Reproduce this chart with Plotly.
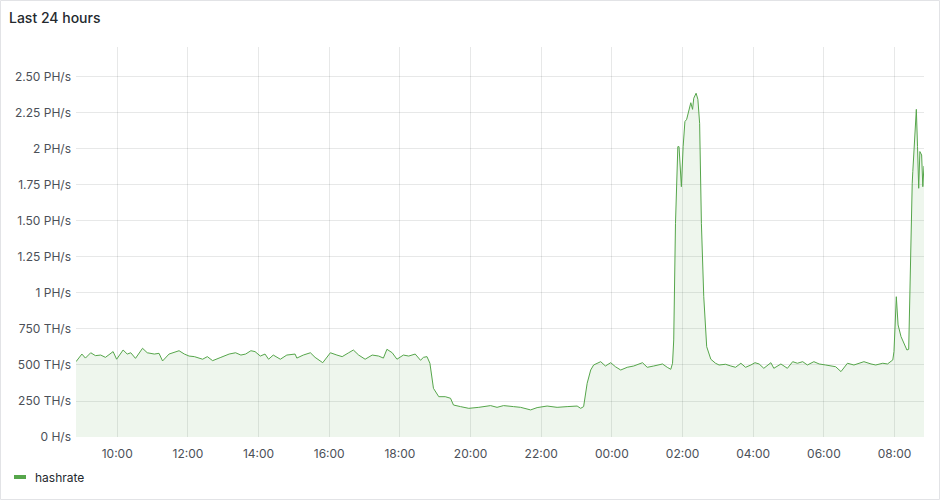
import pandas as pd
import plotly.graph_objects as go

# ---- data ----
start_time = "2023-06-14 08:50"
# minutes after start_time
minutes = [0, 10, 16, 25, 33, 42, 50, 63, 69, 80, 87, 93, 101, 113, 121, 133, 141, 147, 158, 175,
           184, 192, 201, 215, 223, 232, 246, 260, 271, 280, 288, 297, 304, 313, 321, 327, 335, 347,
           358, 372, 375, 386, 398, 406, 419, 432, 443, 452, 463, 471, 480, 491, 503, 514, 522, 528,
           537, 545, 556, 565, 576, 585, 590, 596, 601, 605, 607, 616, 627, 636, 641, 653, 667, 684,
           704, 715, 726, 743, 755, 772, 783, 800, 817, 834, 851, 857, 862, 868, 874, 879, 891, 899,
           908, 916, 925, 936, 947, 962, 970, 981, 996, 1004, 1010, 1013, 1015, 1018, 1022, 1024,
           1028, 1031, 1034, 1037, 1041, 1044, 1047, 1049, 1053, 1056, 1059, 1062, 1066, 1071, 1078,
           1086, 1092, 1103, 1112, 1120, 1129, 1137, 1146, 1153, 1160, 1168, 1180, 1185, 1197, 1208,
           1217, 1225, 1234, 1242, 1253, 1262, 1273, 1282, 1290, 1299, 1310, 1321, 1338, 1350, 1358,
           1370, 1378, 1387, 1389, 1393, 1396, 1401, 1406, 1411, 1414, 1418, 1420, 1421, 1423, 1427,
           1429, 1431, 1433, 1436, 1438, 1440]
# hashrate in TH/s
hashrate_ths = [523, 576, 548, 585, 565, 569, 553, 593, 540, 604, 576, 585, 546, 616, 585, 576, 581, 528, 576, 599,
                576, 562, 558, 540, 558, 530, 553, 576, 585, 569, 576, 599, 593, 562, 576, 540, 569, 540,
                569, 576, 548, 569, 585, 553, 516, 585, 569, 558, 585, 604, 569, 540, 569, 562, 548, 609,
                585, 540, 569, 562, 576, 533, 553, 558, 512, 396, 338, 280, 280, 269, 222, 211, 199, 206,
                218, 206, 218, 211, 206, 188, 204, 215, 206, 211, 215, 199, 211, 373, 465, 500, 523, 493,
                516, 488, 465, 484, 493, 516, 484, 493, 507, 484, 470, 512, 674, 1484, 2016, 2016,
                1738, 2016, 2190, 2206, 2282, 2321, 2275, 2352, 2387, 2345, 2178, 1484, 974, 627, 540,
                512, 500, 505, 493, 484, 512, 484, 500, 516, 507, 477, 516, 477, 507, 477,
                523, 512, 523, 500, 523, 507, 500, 493, 488, 454, 512, 500, 523, 507, 500,
                512, 507, 535, 593, 974, 778, 697, 651, 604, 609, 1484, 1762, 1843, 2016, 2275,
                2016, 1727, 1982, 1958, 1738, 1882]
series_name = "hashrate"
y_tick_values = [0, 250, 500, 750, 1000, 1250, 1500, 1750, 2000, 2250, 2500]
y_tick_labels = ["0 H/s", "250 TH/s", "500 TH/s", "750 TH/s", "1 PH/s", "1.25 PH/s",
                 "1.50 PH/s", "1.75 PH/s", "2 PH/s", "2.25 PH/s", "2.50 PH/s"]
title_text = "Last 24 hours"

t0 = pd.Timestamp(start_time)
times = [t0 + pd.Timedelta(minutes=m) for m in minutes]

# ---- figure ----
W, H = 940, 500
ML, MR, MT, MB = 76, 16, 47, 63
PW, PH = W - ML - MR, H - MT - MB
GREEN = "#56A64B"
FONT = "Inter, Roboto, sans-serif"


def px_x(x):
    return (x - ML) / PW


def px_y(y):
    return (H - MB - y) / PH


fig = go.Figure()
fig.add_trace(go.Scatter(
    x=times, y=hashrate_ths, mode="lines", name=series_name,
    line=dict(color=GREEN, width=1), fill="tozeroy",
    fillcolor="rgba(86,166,75,0.1)", showlegend=False, hoverinfo="skip"))

grid = "rgba(36,41,46,0.11)"
fig.update_layout(
    width=W, height=H,
    margin=dict(l=ML, r=MR, t=MT, b=MB),
    paper_bgcolor="white", plot_bgcolor="white",
    font=dict(family=FONT, size=12, color="#4b5058"),
    xaxis=dict(
        range=[t0, t0 + pd.Timedelta(hours=24)],
        tickformat="%H:%M", dtick=2 * 3600 * 1000,
        tick0=t0.normalize() + pd.Timedelta(hours=10),
        showgrid=True, gridcolor=grid, gridwidth=1,
        zeroline=False, showline=False, ticks="", ticklen=0,
        ticklabelstandoff=8,
        tickfont=dict(size=12, color="#4b5058"),
    ),
    yaxis=dict(
        range=[0, 2708], tickvals=y_tick_values, ticktext=y_tick_labels,
        showgrid=True, gridcolor=grid, gridwidth=1,
        zeroline=False, showline=False, ticks="", ticklen=0,
        ticklabelstandoff=4,
        tickfont=dict(size=12, color="#4b5058"),
    ),
    showlegend=False,
)

# panel title
fig.add_annotation(text=title_text, xref="paper", yref="paper",
                   x=px_x(7), y=px_y(17), xanchor="left", yanchor="middle",
                   showarrow=False, font=dict(family=FONT, size=14, color="#24292e", weight=500))

# legend (swatch + label)
ly = px_y(477)
fig.add_shape(type="line", xref="paper", yref="paper",
              x0=px_x(14), x1=px_x(26), y0=ly, y1=ly,
              line=dict(color=GREEN, width=4))
fig.add_annotation(text=series_name, xref="paper", yref="paper",
                   x=px_x(33), y=ly, xanchor="left", yanchor="middle",
                   showarrow=False, font=dict(family=FONT, size=12, color="#24292e"))

# panel border
fig.add_shape(type="rect", xref="paper", yref="paper", layer="above",
              x0=px_x(0.5), x1=px_x(W - 0.5), y0=px_y(H - 0.5), y1=px_y(0.5),
              line=dict(color="#e2e3e6", width=1))

fig.write_html("out.html", config={"displayModeBar": False},
               post_script="document.body.style.margin='0';document.body.style.padding='0';")
